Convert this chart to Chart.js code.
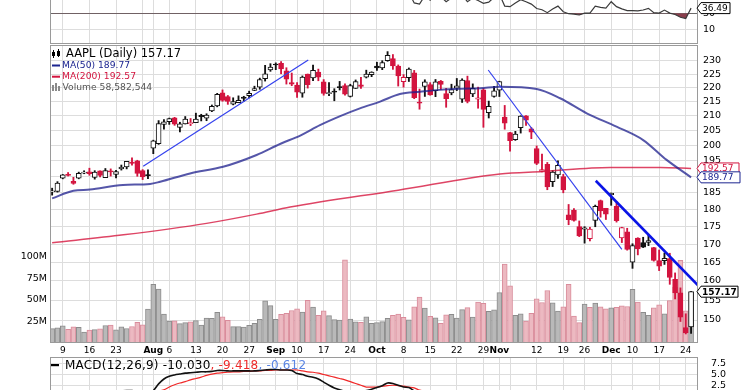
<!DOCTYPE html>
<html>
<head>
<meta charset="utf-8">
<script src="https://cdn.jsdelivr.net/npm/chart.js@4.4.1/dist/chart.umd.min.js"></script>
<style>
  html, body { margin:0; padding:0; background:#fff; }
  body { width:745px; height:390px; overflow:hidden; position:relative; }
  canvas { position:absolute; left:0; }
</style>
</head>
<body>
<canvas id="rsiChart" width="745" height="104" style="top:-60px"></canvas>
<canvas id="priceChart" width="745" height="312" style="top:44px"></canvas>
<canvas id="macdChart" width="745" height="114" style="top:356px"></canvas>
<script>
const FONT = 'DejaVu Sans';

// ---------------- DATA (AAPL daily, 2018) ----------------
const dates = ['07-05','07-06','07-09','07-10','07-11','07-12','07-13','07-16','07-17','07-18','07-19','07-20','07-23','07-24','07-25','07-26','07-27','07-30','07-31',
'08-01','08-02','08-03','08-06','08-07','08-08','08-09','08-10','08-13','08-14','08-15','08-16','08-17','08-20','08-21','08-22','08-23','08-24','08-27','08-28','08-29','08-30','08-31',
'09-04','09-05','09-06','09-07','09-10','09-11','09-12','09-13','09-14','09-17','09-18','09-19','09-20','09-21','09-24','09-25','09-26','09-27','09-28',
'10-01','10-02','10-03','10-04','10-05','10-08','10-09','10-10','10-11','10-12','10-15','10-16','10-17','10-18','10-19','10-22','10-23','10-24','10-25','10-26','10-29','10-30','10-31',
'11-01','11-02','11-05','11-06','11-07','11-08','11-09','11-12','11-13','11-14','11-15','11-16','11-19','11-20','11-21','11-23','11-26','11-27','11-28','11-29','11-30',
'12-03','12-04','12-06','12-07','12-10','12-11','12-12','12-13','12-14','12-17','12-18','12-19','12-20','12-21','12-24','12-26'];

const prevClose = 183.92;

const open = [
185.26,185.42,189.50,190.71,188.50,189.53,191.08,191.52,189.75,191.78,
189.69,191.78,190.68,192.45,193.06,194.61,194.99,191.90,190.30,199.13,
200.58,207.03,208.00,209.32,206.05,207.28,207.36,207.70,210.16,209.22,
211.75,213.44,218.10,216.80,214.10,214.65,216.60,217.15,219.01,220.15,
223.25,226.51,228.41,228.99,226.23,221.85,220.95,218.01,224.94,223.52,
225.75,222.15,217.79,218.50,220.24,220.78,216.82,219.75,221.00,223.82,
224.79,227.95,227.25,230.05,230.78,227.96,222.21,223.64,225.46,214.52,
220.42,221.16,218.93,222.30,217.86,218.06,219.79,215.83,222.60,217.71,
215.90,219.19,211.15,216.88,219.05,209.55,204.30,201.92,205.97,209.98,
205.55,199.00,191.63,193.90,188.39,190.50,190.00,178.37,179.73,174.94,
174.24,171.51,176.73,182.66,180.29,184.46,180.95,171.76,173.49,165.00,
171.66,170.40,170.49,169.00,165.45,165.38,166.00,160.40,156.86,148.15,
148.30];

const high = [
186.41,188.43,190.68,191.28,189.78,191.41,191.84,192.65,191.87,191.80,
192.55,192.43,191.96,193.66,194.85,195.96,195.19,192.20,192.14,201.76,
208.38,208.74,209.25,209.50,207.81,209.78,209.10,210.95,210.56,210.74,
213.81,217.95,219.18,217.19,216.36,217.05,216.90,218.74,220.54,223.49,
228.26,228.87,229.18,229.67,227.35,225.37,221.85,224.30,225.00,228.35,
226.84,222.95,221.85,219.62,222.28,221.36,221.26,222.82,223.75,226.44,
225.84,229.42,230.00,233.47,232.35,228.41,224.80,227.27,226.35,219.50,
222.88,221.83,222.99,222.64,219.74,221.26,223.36,223.25,224.23,221.38,
220.19,219.69,215.18,220.45,222.36,213.65,204.39,204.72,210.06,210.12,
206.01,199.85,197.18,194.48,191.97,194.97,190.70,181.47,180.27,176.60,
174.95,174.77,181.29,182.80,180.33,184.94,182.39,174.78,174.49,170.09,
171.79,171.92,172.57,169.08,168.35,167.53,167.45,162.11,158.16,151.55,
157.23];

const low = [
184.28,185.20,189.30,190.18,187.61,189.31,190.90,190.42,189.20,189.93,
189.69,190.17,189.56,192.05,192.43,193.61,190.10,189.07,189.34,197.31,
200.35,205.48,207.07,206.76,204.52,207.20,206.67,207.70,208.26,208.33,
211.47,213.16,215.11,214.03,213.84,214.60,215.11,216.33,218.92,219.41,
222.40,226.00,226.63,225.10,221.30,220.71,216.47,216.56,219.84,222.57,
222.52,217.27,217.12,215.30,219.15,217.29,216.63,219.70,219.76,223.54,
224.02,226.35,226.63,229.78,226.73,220.58,220.20,222.25,216.05,212.32,
216.84,217.27,216.76,219.34,213.00,217.43,218.94,214.70,214.54,216.75,
212.67,206.09,209.27,216.62,216.81,205.43,198.17,201.69,204.13,206.75,
202.25,193.79,191.45,185.93,186.90,189.46,184.99,175.51,176.55,172.10,
170.26,170.88,174.93,177.70,177.03,181.21,176.27,170.42,168.30,163.33,
167.00,169.02,169.55,165.28,162.73,164.39,159.09,155.30,149.63,146.59,
146.72];

const close = [
185.40,187.97,190.58,190.35,187.88,191.03,191.33,190.91,191.45,190.40,
191.88,191.44,191.61,193.00,194.82,194.21,190.98,189.91,190.29,201.50,
207.39,207.99,209.07,207.11,207.25,208.88,207.53,208.87,209.75,210.24,
213.32,217.58,215.46,215.04,215.05,215.49,216.16,217.94,219.70,222.98,
225.03,227.63,228.36,226.87,223.10,221.30,218.33,223.85,221.07,226.41,
223.84,217.88,218.24,218.37,220.03,217.66,220.79,222.19,220.42,224.95,
225.74,227.26,229.28,232.07,227.99,224.29,223.77,226.87,216.36,214.45,
222.11,217.36,222.15,221.19,216.02,219.31,220.65,222.73,215.09,219.80,
216.30,212.24,213.30,218.86,222.22,207.48,201.59,203.77,209.95,208.49,
204.47,194.17,192.23,186.80,191.41,193.53,185.86,176.98,176.78,172.29,
174.62,174.24,180.94,179.55,178.58,184.82,176.69,174.72,168.49,169.60,
168.63,169.10,170.95,165.48,163.94,166.07,160.89,156.83,150.73,146.83,
157.17];

// volume in millions of shares
const volumeM = [
16.6,17.5,19.8,15.9,18.8,18.0,12.5,15.0,15.5,16.4,
20.3,20.7,15.2,18.7,16.8,19.1,24.0,21.0,39.4,67.9,
62.4,33.4,25.4,25.6,22.5,23.5,24.6,25.9,20.7,28.8,
28.5,35.4,30.3,26.2,19.0,18.9,18.5,20.5,22.8,27.3,
48.8,43.3,27.4,33.3,34.3,37.6,39.5,35.7,49.3,41.7,
31.9,37.2,31.6,27.1,26.6,96.2,27.7,24.6,24.0,30.2,
22.9,23.6,24.8,28.7,32.0,33.6,29.7,26.9,42.0,53.1,
40.3,30.8,29.2,22.9,32.6,33.1,28.8,38.7,40.9,29.9,
47.3,45.9,36.7,38.4,58.3,91.3,66.2,31.9,33.9,25.4,
34.4,51.1,46.9,60.8,46.5,36.9,41.9,67.8,31.1,23.6,
45.0,41.4,46.1,41.8,39.5,40.8,41.3,43.1,42.3,62.0,
47.3,35.6,31.9,40.7,44.3,33.8,49.0,64.8,95.7,37.2,
58.582544];

// moving averages (day index -> value)
const ma50Day = [0,4,7.1,13.3,18.4,20.3,25.9,32.1,38.4,42.8,46.6,50.3,54.1,57.8,61.6,65.3,69.1,72.8,76.6,80.4,84.1,91.0,95.4,100.4,106.0,111.0,115.4,120];
const ma50Val = [183.3,185.6,186.0,187.4,187.7,188.4,191.0,193.1,196.9,200.5,203.3,206.8,209.9,212.6,215.0,217.7,218.5,219.2,219.6,219.8,220.3,219.5,216.2,210.9,206.3,201.8,195.3,189.77];
const ma200Day = [0,13.4,29,38.4,44.7,65,84.1,92.2,104.8,114.2,120];
const ma200Val = [170.4,172.6,175.9,178.6,180.7,185.8,190.8,191.6,192.9,192.9,192.57];

// hand-drawn trend lines: [dayIndex, price] endpoints
const trendA = [[17.1,193.3],[48.1,230.3]];
const trendB = [[81.9,226.5],[107.0,168.5]];
const trendC = [[102.1,188.7],[121.3,158.8]];

// RSI(14)
const rsi = [
50,56,61,60,53,59,60,59,60,57,
60,59,59,62,65,63,53,51,52,70,
78,79,80,74,74,76,72,74,75,76,
79,83,76,74,74,75,76,78,80,83,
85,86,86,80,70,66,58,65,60,66,
60,50,51,51,54,50,55,57,54,60,
61,63,65,68,58,52,51,56,43,41.5,
52,46.5,53,51,44.5,49,50.5,53,44.5,49,
46,42.5,44,50,54,39,38.3,43,47,44.5,
41.5,36,34.5,30.8,35.5,39,32,29.5,29,27.9,
30.2,30.2,39,37.5,36.5,44.5,38.3,35.5,33.3,33.3,
33,34.1,36.2,30.8,30.2,34,30.2,28.5,25,23.5,
36.49];

// MACD(12,26,9)
const macd = [
1.2,1.2,1.3,1.3,1.1,1.2,1.2,1.2,1.2,1.1,
1.2,1.2,1.2,1.3,1.4,1.4,1.1,0.9,0.8,1.4,
2.9,4.0,4.6,4.9,5.1,5.3,5.4,5.5,5.6,5.6,
5.7,5.9,5.9,5.8,5.8,5.8,5.8,5.8,5.8,5.9,
6.0,6.1,6.1,6.0,6.0,5.9,5.2,5.0,4.6,4.4,
4.0,3.3,2.6,2.0,1.6,1.2,1.1,1.1,1.1,1.4,
1.7,2.1,2.5,3.1,3.0,2.6,2.2,2.1,1.3,0.4,
0.3,-0.1,0.0,-0.1,-0.6,-0.7,-0.7,-0.4,-1.0,-1.1,
-1.5,-2.1,-2.4,-2.2,-1.7,-2.6,-3.8,-4.4,-4.2,-4.1,
-4.3,-5.2,-6.0,-7.0,-7.3,-7.3,-7.9,-9.0,-9.8,-10.7,
-11.1,-11.3,-10.8,-10.4,-10.0,-9.2,-9.1,-9.1,-9.5,-9.6,
-9.7,-9.6,-9.4,-9.6,-9.8,-9.7,-10.0,-10.5,-11.3,-12.2,
-10.03];
const signal = [
1.1,1.1,1.1,1.2,1.2,1.2,1.2,1.2,1.2,1.2,
1.2,1.2,1.2,1.2,1.2,1.3,1.3,1.2,1.1,1.1,
1.3,1.6,2.2,2.7,3.1,3.4,3.8,4.1,4.4,4.8,
5.1,5.3,5.4,5.5,5.6,5.6,5.7,5.7,5.8,5.8,
5.9,5.9,6.0,6.0,6.0,6.0,6.0,5.8,5.6,5.5,
5.3,5.0,4.7,4.4,4.1,3.8,3.4,3.0,2.6,2.2,
2.2,2.2,2.4,2.5,2.6,2.5,2.4,2.2,2.0,1.5,
1.2,1.0,0.8,0.6,0.4,0.2,0.0,-0.1,-0.3,-0.4,
-0.6,-0.9,-1.2,-1.4,-1.4,-1.7,-2.1,-2.6,-2.9,-3.2,
-3.4,-3.8,-4.2,-4.8,-5.3,-5.7,-6.1,-6.7,-7.3,-8.0,
-8.6,-9.1,-9.4,-9.6,-9.7,-9.6,-9.5,-9.4,-9.4,-9.4,
-9.5,-9.5,-9.5,-9.5,-9.5,-9.6,-9.6,-9.6,-9.7,-9.9,
-9.418];

// axis ticks
const tickIdx  = [2,7,12,17,19,22,27,32,37,42,46,51,56,61,66,71,76,81,84,86,91,96,100,105,109,114,119];
const tickText = ['9','16','23','','Aug','6','13','20','27','Sep','10','17','24','Oct','8','15','22','29','Nov','','12','19','26','Dec','10','17','24'];
const monthNames = ['Aug','Sep','Oct','Nov','Dec'];
const priceTicks = [150,155,160,165,170,175,180,185,190,195,200,205,210,215,220,225,230];
const volTicks = [25e6,50e6,75e6,100e6];
const rsiTicks = [10,30,50,70,90];
const macdTicks = [-15,-12.5,-10,-7.5,-5,-2.5,0,2.5,5,7.5];

// axis ranges
const X_MIN = -0.4, X_MAX = 121.3;
const PRICE_MIN = 144.42, PRICE_MAX = 236.03;
const VOL_MAX = 345e6;
const RSI_MIN = -8.375, RSI_MAX = 121.625;
const MACD_MIN = -16.32, MACD_MAX = 8.906;

// ---------------- derived styling ----------------
const last = close.length - 1;
const idx = close.map((_, i) => i);
const upDay = close.map((c, i) => c >= (i === 0 ? prevClose : close[i - 1]));
const RED = '#d3143f', BLACK = '#111111';
const candleCol = upDay.map(u => u ? BLACK : RED);
const bodyFill = close.map((c, i) => c > open[i] ? '#ffffff' : candleCol[i]);
const volFill = upDay.map(u => u ? '#b9b9b9' : '#ecb9c1');
const volEdge = upDay.map(u => u ? '#8c8c8c' : '#d98c9b');
const GRID = '#dddddd';
const FRAME = '#9a9a9a';

function xAxis(showLabels) {
  return {
    type: 'linear', min: X_MIN, max: X_MAX, offset: false, bounds: 'data',
    afterBuildTicks: s => { s.ticks = tickIdx.map(v => ({ value: v })); },
    grid: { color: GRID, drawTicks: false, tickLength: 0, offset: false },
    border: { display: false },
    ticks: showLabels ? {
      autoSkip: false, maxRotation: 0, minRotation: 0, padding: 2, color: '#000',
      callback: (v, i) => tickText[i],
      font: c => ({ family: FONT, size: 9, weight: monthNames.includes(tickText[c.index]) ? 'bold' : 'normal' })
    } : { display: false },
    afterFit: s => { s.height = showLabels ? 13 : 0; s.paddingLeft = 0; s.paddingRight = 0; }
  };
}
function yFit(w) {
  return s => { s.width = w; s.paddingTop = 0; s.paddingBottom = 0; };
}

function frame(chart) {
  const { ctx, chartArea: a } = chart;
  ctx.save();
  ctx.strokeStyle = FRAME; ctx.lineWidth = 1;
  ctx.strokeRect(Math.round(a.left) + 0.5, Math.round(a.top) + 0.5, Math.round(a.right - a.left) - 1, Math.round(a.bottom - a.top) - 1);
  ctx.restore();
}

function tag(ctx, xTip, y, text, color, bold, w) {
  const h = 11;
  ctx.save();
  ctx.beginPath();
  ctx.moveTo(xTip, y);
  ctx.lineTo(xTip + 4, y - h / 2);
  ctx.lineTo(xTip + w, y - h / 2);
  ctx.lineTo(xTip + w, y + h / 2);
  ctx.lineTo(xTip + 4, y + h / 2);
  ctx.closePath();
  ctx.fillStyle = '#ffffff'; ctx.fill();
  ctx.strokeStyle = color; ctx.lineWidth = 1; ctx.stroke();
  ctx.fillStyle = color;
  ctx.font = (bold ? 'bold ' : '') + '9px ' + FONT;
  ctx.textBaseline = 'middle'; ctx.textAlign = 'left';
  ctx.fillText(text, xTip + 5, y + 0.5);
  ctx.restore();
}

// ---------------- main price panel ----------------
const mainDecor = {
  id: 'mainDecor',
  afterDraw(chart) {
    const { ctx, chartArea: a } = chart;
    const py = chart.scales.price;
    frame(chart);
    // legend
    ctx.save();
    ctx.textBaseline = 'middle'; ctx.textAlign = 'left';
    ctx.fillStyle = '#000'; ctx.strokeStyle = '#000'; ctx.lineWidth = 1;
    ctx.beginPath(); ctx.moveTo(53.5, 6); ctx.lineTo(53.5, 14); ctx.moveTo(58.5, 5); ctx.lineTo(58.5, 13); ctx.stroke();
    ctx.fillRect(52, 8, 3, 4); ctx.fillRect(57, 7, 3, 5);
    ctx.font = '11.5px ' + FONT;
    ctx.fillText('AAPL (Daily) ' + close[last].toFixed(2), 66, 10.5);
    ctx.font = '9.2px ' + FONT;
    ctx.fillStyle = '#1c2590'; ctx.fillRect(52, 20.5, 8, 2);
    ctx.fillText('MA(50) ' + ma50Val[ma50Val.length - 1].toFixed(2), 62, 21.5);
    ctx.fillStyle = '#d3143f'; ctx.fillRect(52, 31.7, 8, 2);
    ctx.fillText('MA(200) ' + ma200Val[ma200Val.length - 1].toFixed(2), 62, 32.7);
    ctx.fillStyle = '#8a8a8a';
    ctx.fillRect(52, 41, 2, 6); ctx.fillRect(55, 39, 2, 8); ctx.fillRect(58, 42, 2, 5);
    ctx.fillStyle = '#555';
    ctx.fillText('Volume ' + Math.round(volumeM[last] * 1e6).toLocaleString('en-US'), 62.5, 43.7);
    ctx.restore();
    const xTip = a.right - 1;
    tag(ctx, xTip, py.getPixelForValue(ma200Val[ma200Val.length - 1]), ma200Val[ma200Val.length - 1].toFixed(2), '#d3143f', false, 42);
    tag(ctx, xTip, py.getPixelForValue(ma50Val[ma50Val.length - 1]), ma50Val[ma50Val.length - 1].toFixed(2), '#1c2590', false, 43);
    tag(ctx, xTip, py.getPixelForValue(close[last]), close[last].toFixed(2), '#000', true, 41);
  }
};

const pts = (xsArr, ysArr) => xsArr.map((x, i) => ({ x: x, y: ysArr[i] }));
const seg = arr => arr.map(p => ({ x: p[0], y: p[1] }));

new Chart(document.getElementById('priceChart'), {
  type: 'bar',
  data: {
    datasets: [
      { type: 'line', label: 'trendA', data: seg(trendA), yAxisID: 'price', borderColor: '#3542ee', borderWidth: 1.2, pointRadius: 0, order: 0 },
      { type: 'line', label: 'trendB', data: seg(trendB), yAxisID: 'price', borderColor: '#3542ee', borderWidth: 1.2, pointRadius: 0, order: 0 },
      { type: 'line', label: 'trendC', data: seg(trendC), yAxisID: 'price', borderColor: '#0a14e6', borderWidth: 2.6, pointRadius: 0, order: 0 },
      { type: 'line', label: 'MA(50)', data: pts(ma50Day, ma50Val), yAxisID: 'price', borderColor: 'rgba(28,30,140,0.75)', borderWidth: 2, pointRadius: 0, cubicInterpolationMode: 'monotone', order: 2 },
      { type: 'line', label: 'MA(200)', data: pts(ma200Day, ma200Val), yAxisID: 'price', borderColor: 'rgba(214,22,62,0.8)', borderWidth: 1.5, pointRadius: 0, cubicInterpolationMode: 'monotone', order: 3 },
      { label: 'body', data: idx.map(i => ({ x: i, y: [open[i], close[i]] })), yAxisID: 'price', backgroundColor: bodyFill, borderColor: candleCol, borderWidth: 1, borderSkipped: false, barThickness: 5, minBarLength: 1, grouped: false, order: 4 },
      { label: 'wick', data: idx.map(i => ({ x: i, y: [low[i], high[i]] })), yAxisID: 'price', backgroundColor: candleCol, borderWidth: 0, barThickness: 1.2, grouped: false, order: 5 },
      { label: 'Volume', data: idx.map(i => ({ x: i, y: volumeM[i] * 1e6 })), yAxisID: 'vol', backgroundColor: volFill, borderColor: volEdge, borderWidth: 1, borderSkipped: false, barThickness: 5, grouped: false, order: 9 }
    ]
  },
  options: {
    responsive: false, animation: false, events: [],
    layout: { padding: { top: 1, left: 0, right: 0, bottom: 0 } },
    plugins: { legend: { display: false }, tooltip: { enabled: false } },
    scales: {
      x: xAxis(true),
      price: {
        type: 'logarithmic', position: 'right', min: PRICE_MIN, max: PRICE_MAX, bounds: 'data',
        afterBuildTicks: s => { s.ticks = priceTicks.map(v => ({ value: v })); },
        ticks: { autoSkip: false, callback: v => String(v), font: { family: FONT, size: 9.5 }, color: '#000', padding: 5 },
        grid: { color: GRID, drawTicks: false, tickLength: 0 },
        border: { display: false },
        afterFit: yFit(47)
      },
      vol: {
        type: 'linear', position: 'left', min: 0, max: VOL_MAX, bounds: 'data',
        afterBuildTicks: s => { s.ticks = volTicks.map(v => ({ value: v })); },
        ticks: { autoSkip: false, callback: v => (v / 1e6) + 'M', font: { family: FONT, size: 9.5 }, color: '#000', padding: 3 },
        grid: { display: false, drawTicks: false, tickLength: 0 },
        border: { display: false },
        afterFit: yFit(50)
      }
    }
  },
  plugins: [mainDecor]
});

// ---------------- RSI panel (mostly above the visible window) ----------------
const rsiDecor = {
  id: 'rsiDecor',
  afterDraw(chart) {
    frame(chart);
    const y = chart.scales.y.getPixelForValue(rsi[last]);
    tag(chart.ctx, chart.chartArea.right - 1, y, rsi[last].toFixed(2), '#000', false, 33);
  }
};

new Chart(document.getElementById('rsiChart'), {
  type: 'line',
  data: {
    datasets: [{
      label: 'RSI(14)', data: idx.map(i => ({ x: i, y: rsi[i] })),
      borderColor: '#3a3a3a', borderWidth: 1.2, pointRadius: 0,
      fill: { target: { value: 30 }, above: 'rgba(0,0,0,0)', below: '#8a3e4c' }
    }]
  },
  options: {
    responsive: false, animation: false, events: [],
    layout: { padding: { top: 0, left: 50, right: 0, bottom: 0 } },
    plugins: { legend: { display: false }, tooltip: { enabled: false } },
    scales: {
      x: xAxis(false),
      y: {
        position: 'right', min: RSI_MIN, max: RSI_MAX, bounds: 'data',
        afterBuildTicks: s => { s.ticks = rsiTicks.map(v => ({ value: v })); },
        ticks: { autoSkip: false, font: { family: FONT, size: 9.5 }, color: '#000', padding: 5 },
        grid: { color: c => (c.tick && (c.tick.value === 30 || c.tick.value === 70)) ? '#6a6a6a' : GRID, drawTicks: false, tickLength: 0 },
        border: { display: false },
        afterFit: yFit(47)
      }
    }
  },
  plugins: [rsiDecor]
});

// ---------------- MACD panel (mostly below the visible window) ----------------
const macdDecor = {
  id: 'macdDecor',
  afterDraw(chart) {
    frame(chart);
    const ctx = chart.ctx;
    ctx.save();
    ctx.fillStyle = '#000';
    ctx.fillRect(51, 8, 8, 2.2);
    ctx.font = '12px ' + FONT;
    ctx.textBaseline = 'middle'; ctx.textAlign = 'left';
    try { ctx.letterSpacing = '0.2px'; } catch (e) {}
    const hist = macd[last] - signal[last];
    const parts = [
      ['MACD(12,26,9) ' + macd[last].toFixed(3), '#000'],
      [', ' + signal[last].toFixed(3), '#ee2a2a'],
      [', ' + hist.toFixed(3), '#5b86e4']
    ];
    let x = 65;
    parts.forEach(p => { ctx.fillStyle = p[1]; ctx.fillText(p[0], x, 9.5); x += ctx.measureText(p[0]).width; });
    try { ctx.letterSpacing = '0px'; } catch (e) {}
    ctx.restore();
  }
};

new Chart(document.getElementById('macdChart'), {
  type: 'line',
  data: {
    datasets: [
      { label: 'MACD', data: idx.map(i => ({ x: i, y: macd[i] })), borderColor: '#111', borderWidth: 1.6, pointRadius: 0, tension: 0.3, order: 0 },
      { label: 'Signal', data: idx.map(i => ({ x: i, y: signal[i] })), borderColor: '#f02828', borderWidth: 1.2, pointRadius: 0, tension: 0.3, order: 1 }
    ]
  },
  options: {
    responsive: false, animation: false, events: [],
    layout: { padding: { top: 1, left: 50, right: 0, bottom: 0 } },
    plugins: { legend: { display: false }, tooltip: { enabled: false } },
    scales: {
      x: xAxis(false),
      y: {
        position: 'right', min: MACD_MIN, max: MACD_MAX, bounds: 'data',
        afterBuildTicks: s => { s.ticks = macdTicks.map(v => ({ value: v })); },
        ticks: { autoSkip: false, callback: v => v.toFixed(1), font: { family: FONT, size: 9.5 }, color: '#000', padding: 13 },
        grid: { color: GRID, drawTicks: false, tickLength: 0 },
        border: { display: false },
        afterFit: yFit(47)
      }
    }
  },
  plugins: [macdDecor]
});
</script>
</body>
</html>
